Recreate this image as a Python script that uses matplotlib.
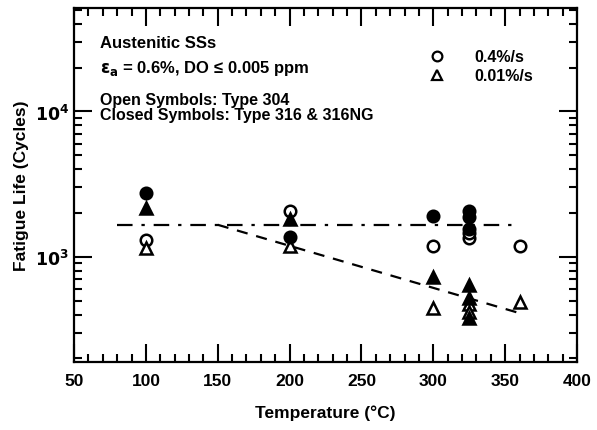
import numpy as np
import matplotlib.pyplot as plt
from matplotlib.lines import Line2D
from matplotlib.ticker import MultipleLocator, LogLocator, NullFormatter, FixedLocator

plt.rcParams['font.family'] = ['Liberation Sans', 'DejaVu Sans']
plt.rcParams['font.weight'] = 'bold'

# 0.4%/s, Type 304 (open circles)
temp_fast_304 = [100, 200, 300, 325, 325, 360]
life_fast_304 = [1310, 2080, 1180, 1350, 1450, 1180]
# 0.4%/s, Type 316 & 316NG (filled circles)
temp_fast_316 = [100, 200, 300, 325, 325, 325]
life_fast_316 = [2750, 1365, 1920, 2080, 1880, 1560]
# 0.01%/s, Type 304 (open triangles)
temp_slow_304 = [100, 200, 300, 325, 325, 360]
life_slow_304 = [1155, 1185, 445, 470, 420, 490]
# 0.01%/s, Type 316 & 316NG (filled triangles)
temp_slow_316 = [100, 200, 300, 325, 325, 325]
life_slow_316 = [2160, 1825, 725, 640, 520, 380]

# trend lines
fast_line_temp = [80, 360]
fast_line_life = [1660, 1660]
slow_line_temp = [150, 360]
slow_line_life = [1660, 410]

fig = plt.figure(figsize=(5.97, 4.31), dpi=100)
ax = fig.add_axes([0.124, 0.1585, 0.8425, 0.8195])

ax.plot(fast_line_temp, fast_line_life, color='black', lw=1.6,
        dashes=(7, 4, 1.5, 4))
ax.plot(slow_line_temp, slow_line_life, color='black', lw=1.6,
        dashes=(5, 4))

ms = 8.3
ax.plot(temp_fast_304, life_fast_304, 'o', ms=ms, mfc='white', mec='black', mew=1.8, ls='none')
ax.plot(temp_slow_304, life_slow_304, '^', ms=ms, mfc='white', mec='black', mew=1.8, ls='none')
ax.plot(temp_fast_316, life_fast_316, 'o', ms=ms, mfc='black', mec='black', mew=1.8, ls='none')
ax.plot(temp_slow_316, life_slow_316, '^', ms=ms, mfc='black', mec='black', mew=1.8, ls='none')

ax.set_yscale('log')
ax.set_xlim(50, 400)
ax.set_ylim(190, 51000)

ax.xaxis.set_major_locator(MultipleLocator(50))
ax.xaxis.set_minor_locator(MultipleLocator(10))
ax.yaxis.set_major_locator(FixedLocator([1e3, 1e4]))
ax.yaxis.set_minor_locator(LogLocator(base=10, subs=np.arange(2, 10)))
ax.yaxis.set_minor_formatter(NullFormatter())
ax.set_yticklabels([r'$\mathbf{10^3}$', r'$\mathbf{10^4}$'])

ax.tick_params(which='both', direction='in', top=True, right=True, width=1.5,
               labelsize=12.5)
ax.tick_params(which='major', length=13)
ax.tick_params(which='minor', length=6)
ax.tick_params(axis='x', pad=8)
for sp in ax.spines.values():
    sp.set_linewidth(1.6)

ax.set_xlabel('Temperature (°C)', fontsize=12.5, fontweight='bold', labelpad=12)
ax.set_ylabel('Fatigue Life (Cycles)', fontsize=12.5, fontweight='bold', labelpad=4)

ax.text(0.052, 0.905, 'Austenitic SSs', transform=ax.transAxes, fontsize=12,
        va='center', ha='left')
ax.text(0.052, 0.834, r'$\mathbf{\epsilon_a}$ = 0.6%, DO ≤ 0.005 ppm', transform=ax.transAxes,
        fontsize=12, va='center', ha='left')
ax.text(0.052, 0.743, 'Open Symbols: Type 304', transform=ax.transAxes, fontsize=11.5,
        va='center', ha='left')
ax.text(0.052, 0.701, 'Closed Symbols: Type 316 & 316NG', transform=ax.transAxes,
        fontsize=11.5, va='center', ha='left')

handles = [Line2D([], [], marker='o', ls='none', ms=7, mfc='white', mec='black', mew=1.6),
           Line2D([], [], marker='^', ls='none', ms=7, mfc='white', mec='black', mew=1.6)]
ax.legend(handles, ['0.4%/s', '0.01%/s'], loc='upper left', bbox_to_anchor=(0.678, 0.925),
          frameon=False, handlelength=1.0, handletextpad=1.8, labelspacing=0.25,
          prop={'size': 11.5, 'weight': 'bold'})

fig.savefig('out.png', dpi=100)
